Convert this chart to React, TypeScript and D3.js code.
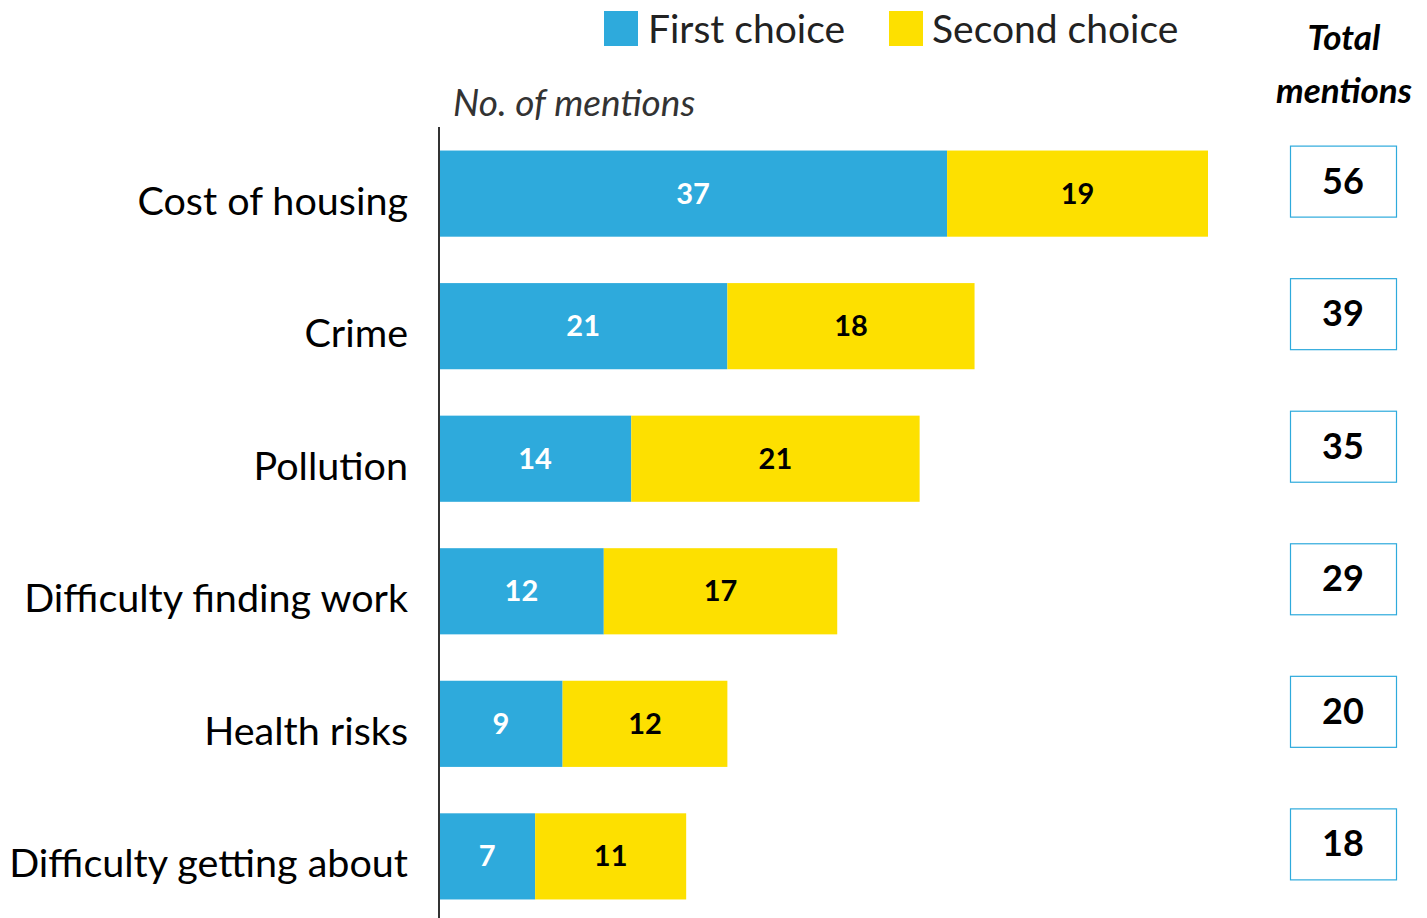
import React from "react";
import * as d3 from "d3";

const categories = [
  "Cost of housing",
  "Crime",
  "Pollution",
  "Difficulty finding work",
  "Health risks",
  "Difficulty getting about",
];
const firstChoice = [37, 21, 14, 12, 9, 7];
const secondChoice = [19, 18, 21, 17, 12, 11];
const totals = [56, 39, 35, 29, 20, 18];
const seriesNames = ["First choice", "Second choice"];

const BLUE = "#2EAADC";
const YELLOW = "#FDE000";
const FONT = "Lato, 'Open Sans', sans-serif";

export default function App() {
  const W = 1427;
  const H = 918;
  const x = d3.scaleLinear().domain([0, 56]).range([439, 1208]);
  const y = d3
    .scaleBand<string>()
    .domain(categories)
    .range([128, 922])
    .paddingInner(0.35)
    .paddingOuter(0.17);
  const bw = y.bandwidth();

  return (
    <svg
      width={W}
      height={H}
      style={{ position: "absolute", left: 0, top: 0, background: "#fff" }}
      fontFamily={FONT}
    >
      {/* legend */}
      <rect x={604} y={11} width={34} height={35} fill={BLUE} />
      <text x={648} y={43} fontSize={39} fill="#222">
        {seriesNames[0]}
      </text>
      <rect x={889} y={11} width={34} height={35} fill={YELLOW} />
      <text x={932} y={43} fontSize={39} fill="#222">
        {seriesNames[1]}
      </text>

      <text x={453} y={116} fontSize={37} fontStyle="italic" fill="#333">
        No. of mentions
      </text>

      <text
        x={1344}
        y={50}
        fontSize={35}
        fontWeight="bold"
        fontStyle="italic"
        textAnchor="middle"
        fill="#000"
      >
        Total
      </text>
      <text
        x={1344}
        y={103}
        fontSize={35}
        fontWeight="bold"
        fontStyle="italic"
        textAnchor="middle"
        fill="#000"
      >
        mentions
      </text>

      {categories.map((c, i) => {
        const y0 = y(c) as number;
        const cy = y0 + bw / 2;
        const x0 = x(0);
        const x1 = x(firstChoice[i]);
        const x2 = x(firstChoice[i] + secondChoice[i]);
        return (
          <g key={c}>
            <text
              x={408}
              y={cy + 21}
              fontSize={39.5}
              textAnchor="end"
              fill="#000"
            >
              {c}
            </text>
            <rect x={x0} y={y0} width={x1 - x0} height={bw} fill={BLUE} />
            <rect x={x1} y={y0} width={x2 - x1} height={bw} fill={YELLOW} />
            <text
              x={(x0 + x1) / 2}
              y={cy + 10}
              fontSize={29}
              fontWeight="bold"
              textAnchor="middle"
              fill="#fff"
            >
              {firstChoice[i]}
            </text>
            <text
              x={(x1 + x2) / 2}
              y={cy + 10}
              fontSize={29}
              fontWeight="bold"
              textAnchor="middle"
              fill="#000"
            >
              {secondChoice[i]}
            </text>
            <rect
              x={1290.5}
              y={cy - 12 - 35.5}
              width={106}
              height={71}
              fill="#fff"
              stroke={BLUE}
              strokeWidth={1.2}
            />
            <text
              x={1343}
              y={cy - 12 + 12}
              fontSize={36}
              fontWeight="bold"
              textAnchor="middle"
              fill="#000"
            >
              {totals[i]}
            </text>
          </g>
        );
      })}

      <line x1={439} x2={439} y1={127} y2={918} stroke="#333" strokeWidth={2} />
    </svg>
  );
}
